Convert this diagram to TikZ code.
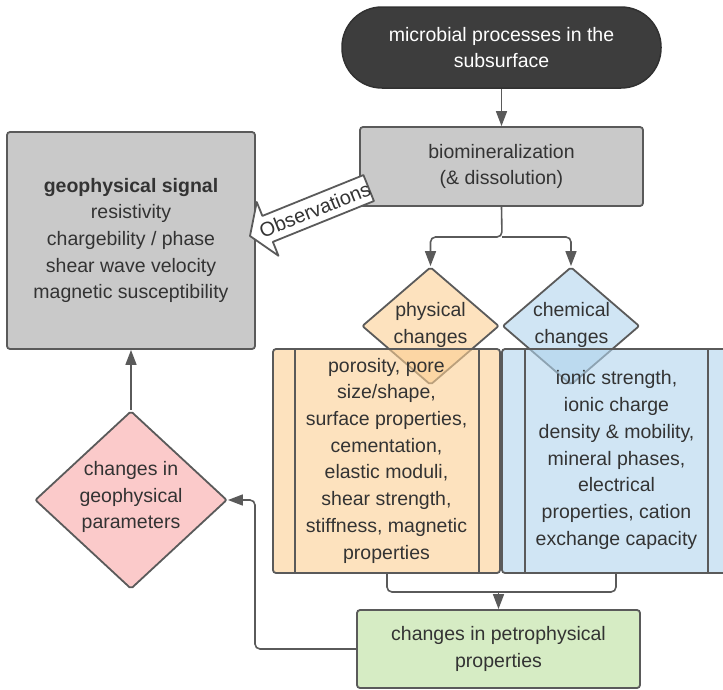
\documentclass[tikz,border=0pt]{standalone}
\usepackage{fontspec}
\setmainfont{Liberation Sans}
\usetikzlibrary{shapes.geometric,arrows.meta}
\definecolor{ln}{HTML}{5A5A5A}
\definecolor{txt}{HTML}{333333}
\definecolor{dark}{HTML}{3D3D3D}
\definecolor{grayfill}{HTML}{C9C9C9}
\definecolor{orangeA}{RGB}{252,207,147}
\definecolor{orangeD}{RGB}{253,226,190}
\definecolor{blueA}{RGB}{176,212,237}
\definecolor{blueD}{RGB}{208,229,244}
\definecolor{pinkfill}{HTML}{FBCACA}
\definecolor{greenfill}{HTML}{D6ECC4}
\begin{document}
\begin{tikzpicture}[x=1pt,y=-1pt,
  every node/.style={text=txt,font=\fontsize{19.5}{26.7}\selectfont,align=center},
  boxstyle/.style={draw=ln,line width=1.8pt,rounded corners=3pt,inner sep=0pt},
  dia/.style={diamond,draw=ln,line width=1.8pt,rounded corners=2pt,inner sep=0pt},
  conn/.style={draw=ln,line width=1.6pt,rounded corners=5pt},
  arr/.style={conn,-{Triangle[length=15pt,width=11pt]}},
  tag/.style={inner sep=0pt}
]
\useasboundingbox (0,0) rectangle (723,689);

% top stadium
\node[draw=dark!80!black,line width=1.5pt,fill=dark,rounded corners=40pt,
      minimum width=319pt,minimum height=81pt,text=white] (micro) at (501.5,47.5)
      {microbial processes in the\\subsurface};

% biomineralization
\node[boxstyle,fill=grayfill,minimum width=283pt,minimum height=79pt] (bio) at (501.5,166.5)
      {biomineralization\\(\& dissolution)};

% geophysical signal
\node[boxstyle,fill=grayfill,minimum width=248pt,minimum height=217pt] (geo) at (131,240.5)
      {\textbf{geophysical signal}\\resistivity\\chargebility / phase\\shear wave velocity\\magnetic susceptibility};

% diamonds
\node[dia,fill=orangeD,minimum width=137pt,minimum height=118pt] (phys) at (430.5,326) {};
\node[dia,fill=blueD,minimum width=137pt,minimum height=118pt] (chem) at (571,326) {};
\node[dia,fill=pinkfill,minimum width=192pt,minimum height=178pt] (pink) at (131,500) {};

% property boxes (semi-transparent fill over diamonds)
\node[draw=ln,line width=1.8pt,rounded corners=3pt,fill=orangeA,fill opacity=0.6,
      minimum width=227pt,minimum height=224pt] (orange) at (386.5,461) {};
\node[draw=ln,line width=1.8pt,rounded corners=3pt,fill=blueA,fill opacity=0.6,
      minimum width=229pt,minimum height=224pt] (blue) at (616.5,461) {};
\draw[ln,line width=1.8pt] (295,349) -- (295,573) (479,349) -- (479,573);
\draw[ln,line width=1.8pt] (525,349) -- (525,573) (708,349) -- (708,573);

\node[tag] (orangetxt) at (386.5,460.5)
  {porosity, pore\\size/shape,\\surface properties,\\cementation,\\elastic moduli,\\shear strength,\\stiffness, magnetic\\properties};
\node[tag] (bluetxt) at (616.5,460)
  {ionic strength,\\ionic charge\\density \& mobility,\\mineral phases,\\electrical\\properties, cation\\exchange capacity};

% diamond labels
\node[tag] (physl) at (430.5,325) {physical\\changes};
\node[tag] (cheml) at (571.5,325) {chemical\\changes};
\node[tag] (pinkl) at (131,497) {changes in\\geophysical\\parameters};

% green box
\node[boxstyle,fill=greenfill,minimum width=283pt,minimum height=78pt] (green) at (498.5,649)
      {changes in petrophysical\\properties};

% connectors
\draw[arr] (micro.south) -- (bio.north);
\coordinate (split) at (502,237);
\draw[arr] (bio.south) -- (split) -| (phys.north);
\draw[arr] (split) -| (chem.north);
\draw[conn] (orange.south -| 387,0) -- (387,592) -- (616,592) -- (blue.south -| 616,0);
\coordinate (merge) at (498.5,592);
\draw[arr] (merge) -- (green.north);
\draw[arr] (green.west) -- (255,649) -- (255,500) -- (pink.east);
\draw[arr] (pink.north) -- (geo.south);

% observations block arrow
\begin{scope}[shift={(250,236)},rotate=22]
  \draw[ln,line width=1.8pt,fill=white,line join=round]
    (0,0) -- (19,-29) -- (19,-14) -- (128,-14) -- (128,14) -- (19,14) -- (19,29) -- cycle;
  \node[tag,rotate=22,font=\fontsize{20}{22}\selectfont] (obs) at (70,0) {Observations};
\end{scope}
\end{tikzpicture}
\end{document}
